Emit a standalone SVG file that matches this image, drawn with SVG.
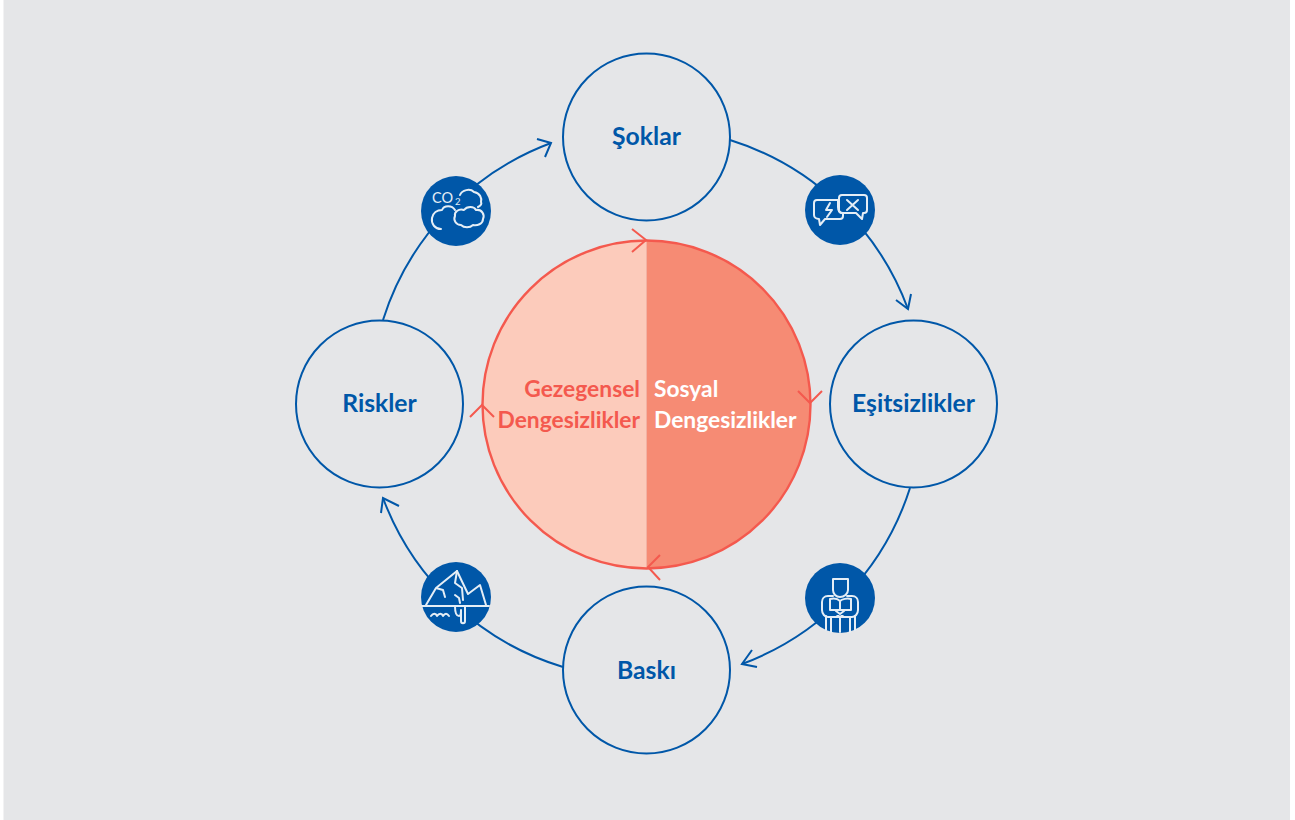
<svg xmlns="http://www.w3.org/2000/svg" width="1295" height="820" viewBox="0 0 1295 820">
<style>
.node{fill:none;stroke:#0057a8;stroke-width:2}
.lbl{font-family:"Lato","Carlito","Liberation Sans",sans-serif;font-weight:700;font-size:24.7px;fill:#0057a8;text-anchor:middle}
.mid{font-family:"Lato","Carlito","Liberation Sans",sans-serif;font-weight:700;font-size:22.8px}
.arc{fill:none;stroke:#0057a8;stroke-width:2}
.head{fill:none;stroke:#0057a8;stroke-width:2}
.rhead{fill:none;stroke:#f4594e;stroke-width:2}
.ic{fill:none;stroke:#e5eef6;stroke-width:2;stroke-linejoin:round;stroke-linecap:round}
.dot{fill:#0057a8}
.ict{font-family:"Lato","Liberation Sans",sans-serif;fill:#e5eef6}
</style>
<rect width="1295" height="820" fill="#fff"/>
<rect x="3.5" y="0" width="1286.5" height="820" fill="#e5e6e8"/>
<g id="connectors">
<path class="arc" d="M730 140A278 278 0 0 1 908 309"/>
<path class="head" d="M896 300L908 309L911 294"/>
<path class="arc" d="M910 488A278 278 0 0 1 742 664"/>
<path class="head" d="M752 650L742 664L757 667"/>
<path class="arc" d="M563 667A278 278 0 0 1 383 498"/>
<path class="head" d="M381 513L383 498L399 506"/>
<path class="arc" d="M383 320A278 278 0 0 1 551 143"/>
<path class="head" d="M537 139L551 143L545 157"/>
</g>
<g id="center">
<path d="M646.5 240A164 164 0 0 0 646.5 568Z" fill="#fccbbb"/>
<path d="M646.5 240A164 164 0 0 1 646.5 568Z" fill="#f68b74"/>
<circle cx="646.5" cy="404.5" r="164" fill="none" stroke="#f4594e" stroke-width="2.4"/>
<path class="rhead" d="M632 229L646 240L632 252"/>
<path class="rhead" d="M798 391L810 403L822 391"/>
<path class="rhead" d="M660 555L648 567L660 580"/>
<path class="rhead" d="M470 417L482 405L494 417"/>
<text class="mid" x="640" y="397" text-anchor="end" fill="#f4594e">Gezegensel</text>
<text class="mid" x="640" y="428" text-anchor="end" fill="#f4594e">Dengesizlikler</text>
<text class="mid" x="654" y="397" fill="#fff">Sosyal</text>
<text class="mid" x="654" y="428" fill="#fff">Dengesizlikler</text>
</g>
<g id="node-soklar"><circle class="node" cx="646.5" cy="137" r="83.5"/><text class="lbl" x="646.5" y="145">Şoklar</text></g>
<g id="node-esitsizlikler"><circle class="node" cx="913.5" cy="404" r="83.5"/><text class="lbl" x="913.5" y="412">Eşitsizlikler</text></g>
<g id="node-baski"><circle class="node" cx="646.5" cy="670" r="83.5"/><text class="lbl" x="646.5" y="679">Baskı</text></g>
<g id="node-riskler"><circle class="node" cx="379.5" cy="404" r="83.5"/><text class="lbl" x="379.5" y="412">Riskler</text></g>
<g id="icon-co2">
<circle class="dot" cx="456" cy="211" r="35"/>
<text class="ict" x="432" y="203" font-size="14.5">CO</text>
<text class="ict" x="455" y="205" font-size="9.5">2</text>
<path class="ic" d="M460 195C462 190 470 188 474 192C480 193 482 198 481 202C482 204 480 206 478 207"/>
<path class="ic" d="M441 229C435 229 431 224 432 218C433 213 437 210 442 210C444 205 452 205 455 210"/>
<path class="ic" d="M461 225C456 225 453 220 455 216C454 212 459 208 464 210C467 206 474 206 476 210C482 209 485 215 483 219C483 224 477 226 473 225C470 228 464 228 461 225Z"/>
</g>
<g id="icon-speech">
<circle class="dot" cx="840" cy="210" r="35"/>
<path class="ic" d="M817 200H838V207C838 211 840 213 843 213V216C843 218 842 219 840 219H825L820 225L819 219C816 219 814 217 814 215V203C814 201 815 200 817 200Z"/>
<path class="ic" d="M842 195H864C866 195 867 196 867 198V210C867 212 866 213 864 213H863L862 219L856 213H842C840 213 839 212 839 210V198C839 196 840 195 842 195Z"/>
<path class="ic" d="M847 200L858 210M858 200L847 210"/>
<path class="ic" d="M830 203L826 210H832L827 217"/>
</g>
<g id="icon-iceberg">
<circle class="dot" cx="456" cy="597" r="35"/>
<path class="ic" d="M422 606H489"/>
<path class="ic" d="M426 605L436 588L443 590L445 597M436 588L457 571L468 594L480 585L486 605"/>
<path class="ic" d="M457 571L455 583L462 588L463 600M455 595L459 598L460 603"/>
<path class="ic" d="M455 606C455 612 456 616 459 616C461 616 461 612 461 610V621C461 624 465 624 465 621V606"/>
<path class="ic" d="M431 616C433 613 436 613 437 616C439 613 442 613 443 616C445 613 447 613 449 616"/>
</g>
<g id="icon-reader">
<circle class="dot" cx="840" cy="598" r="35"/>
<path class="ic" d="M833 579H848V590C848 594 844 597 840 597C836 597 833 594 833 590Z"/>
<path class="ic" d="M833 596H828C824 596 822 599 822 602V610C822 614 825 617 828 617H852C855 617 858 614 858 610V602C858 599 856 596 852 596H847"/>
<path class="ic" d="M830 599V610H851V599C847 598 842 599 840 601C838 599 834 598 830 599Z M840 601V610"/>
<path class="ic" d="M826 616V630M831 618V632M850 618V632M855 616V630M840 617V632M836 611L844 617M844 611L836 617"/>
</g>
</svg>
